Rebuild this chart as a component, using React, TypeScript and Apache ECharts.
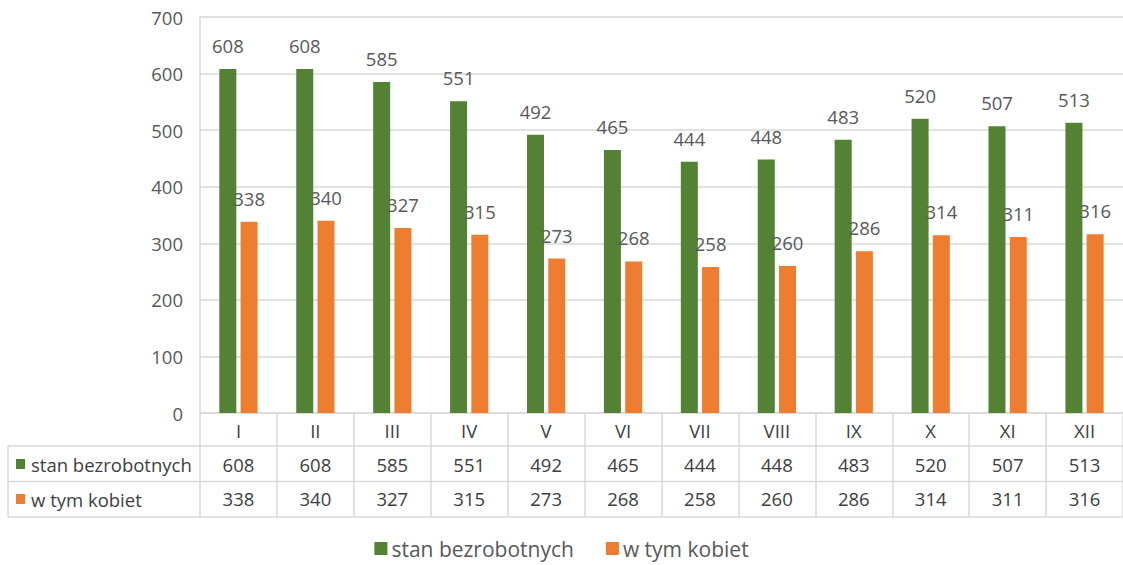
import React, { useEffect, useRef } from "react";
import * as echarts from "echarts";

const months = ["I", "II", "III", "IV", "V", "VI", "VII", "VIII", "IX", "X", "XI", "XII"];
const seriesNames = ["stan bezrobotnych", "w tym kobiet"];
const unemployed = [608, 608, 585, 551, 492, 465, 444, 448, 483, 520, 507, 513];
const women = [338, 340, 327, 315, 273, 268, 258, 260, 286, 314, 311, 316];
const colors = ["#548235", "#ED7D31"];

const FONT = "Open Sans";
const GRID = "#d9d9d9";
const FS = 18.5;

export default function App() {
  const ref = useRef<HTMLDivElement>(null);
  useEffect(() => {
    document.body.style.margin = "0";
    const chart = echarts.init(ref.current!, undefined, { renderer: "svg" });
    const tableAxis = (vals: number[], margin: number) => ({
      type: "category",
      data: vals.map(String),
      position: "bottom",
      gridIndex: 0,
      axisLine: { show: false },
      axisTick: { show: false },
      splitLine: { show: false },
      axisLabel: {
        interval: 0,
        margin,
        verticalAlign: "middle",
        fontFamily: FONT,
        fontSize: FS,
        color: "#404040",
      },
    });
    chart.setOption({
      animation: false,
      textStyle: { fontFamily: FONT },
      grid: { left: 200, top: 17, width: 927, bottom: 152, containLabel: false },
      xAxis: [
        {
          type: "category",
          data: months,
          position: "bottom",
          axisLine: { show: true, lineStyle: { color: GRID, width: 1.5 } },
          axisTick: { show: true, interval: 0, length: 104, lineStyle: { color: GRID, width: 1.5 } },
          axisLabel: {
            interval: 0,
            margin: 17,
            verticalAlign: "middle",
            fontFamily: FONT,
            fontSize: FS,
            color: "#404040",
          },
        },
        tableAxis(unemployed, 51),
        tableAxis(women, 85),
      ],
      yAxis: {
        type: "value",
        min: 0,
        max: 700,
        interval: 100,
        axisLine: { show: true, lineStyle: { color: GRID, width: 1.5 } },
        axisTick: { show: false },
        splitLine: { lineStyle: { color: GRID, width: 1.5 } },
        axisLabel: { margin: 17, fontFamily: FONT, fontSize: FS, color: "#595959" },
      },
      legend: {
        data: seriesNames,
        bottom: 1,
        left: "center",
        icon: "rect",
        itemWidth: 13,
        itemHeight: 13,
        itemGap: 32,
        textStyle: { fontFamily: FONT, fontSize: 21, color: "#595959", padding: [0, 0, 0, -1] },
      },
      series: [
        {
          name: seriesNames[0],
          type: "bar",
          data: unemployed,
          barWidth: 17,
          barGap: "25%",
          itemStyle: { color: colors[0] },
          label: { show: true, position: "top", distance: 14, fontFamily: FONT, fontSize: FS, color: "#595959" },
        },
        {
          name: seriesNames[1],
          type: "bar",
          data: women,
          barWidth: 17,
          barGap: "25%",
          itemStyle: { color: colors[1] },
          label: { show: true, position: "top", distance: 14, fontFamily: FONT, fontSize: FS, color: "#595959" },
        },
      ],
      graphic: [
        { type: "line", shape: { x1: 8, y1: 446, x2: 1123, y2: 446 }, style: { stroke: GRID, lineWidth: 1.5 } },
        { type: "line", shape: { x1: 8, y1: 481.5, x2: 1123, y2: 481.5 }, style: { stroke: GRID, lineWidth: 1.5 } },
        { type: "line", shape: { x1: 8, y1: 517, x2: 1123, y2: 517 }, style: { stroke: GRID, lineWidth: 1.5 } },
        { type: "line", shape: { x1: 8, y1: 446, x2: 8, y2: 517 }, style: { stroke: GRID, lineWidth: 1.5 } },
        { type: "rect", shape: { x: 16, y: 459, width: 9, height: 10 }, style: { fill: colors[0] } },
        { type: "rect", shape: { x: 16, y: 494, width: 9, height: 10 }, style: { fill: colors[1] } },
        {
          type: "text",
          x: 31,
          y: 464,
          style: { text: seriesNames[0], fontFamily: FONT, fontSize: FS, fill: "#404040", verticalAlign: "middle" },
        },
        {
          type: "text",
          x: 31,
          y: 499,
          style: { text: seriesNames[1], fontFamily: FONT, fontSize: FS, fill: "#404040", verticalAlign: "middle" },
        },
      ],
    });
    return () => chart.dispose();
  }, []);
  return <div ref={ref} style={{ width: 1123, height: 565 }} />;
}
